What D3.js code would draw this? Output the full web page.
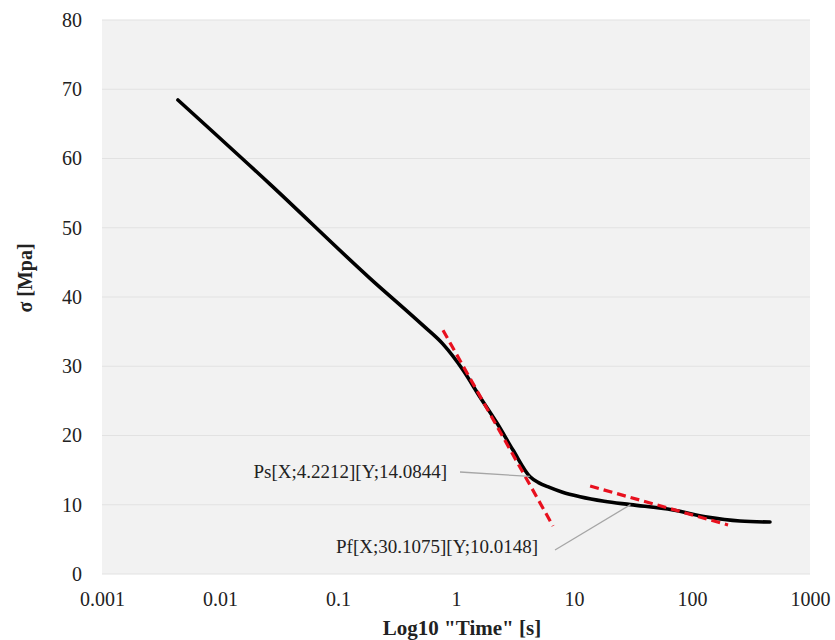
<!DOCTYPE html>
<html>
<head>
<meta charset="utf-8">
<script src="https://cdn.jsdelivr.net/npm/d3@7"></script>
<style>
  html, body { margin: 0; padding: 0; background: #ffffff; }
  svg { display: block; }
  text { font-family: "Liberation Serif", "Times New Roman", serif; fill: #222; }
</style>
</head>
<body>
<svg id="chart" width="835" height="640"></svg>
<script>
// ---- data ----
const timeValues  = [0.0044, 0.0265, 0.1866, 0.525, 0.776, 1.146, 1.596, 2.224, 3.04, 4.2212, 5.0, 6.2, 8.0, 11.25, 18, 30.1075, 69, 134, 255, 458];
const sigmaValues = [68.45, 56.3, 42.7, 35.9, 33.2, 29.46, 25.56, 21.8, 17.9, 14.0844, 13.2, 12.5, 11.8, 11.15, 10.5, 10.0148, 9.24, 8.23, 7.65, 7.5];

const tangentSteepX = [0.776, 6.64];
const tangentSteepY = [35.2, 6.93];
const tangentFlatX  = [13.7, 202];
const tangentFlatY  = [12.7, 7.08];

const xTicks = [0.001, 0.01, 0.1, 1, 10, 100, 1000];
const xTickLabels = ["0.001", "0.01", "0.1", "1", "10", "100", "1000"];
const yTicks = [0, 10, 20, 30, 40, 50, 60, 70, 80];

const annotations = [
  { label: "Ps[X;4.2212][Y;14.0844]", x: 4.2212, y: 14.0844 },
  { label: "Pf[X;30.1075][Y;10.0148]", x: 30.1075, y: 10.0148 }
];

const xTitle = "Log10 \"Time\" [s]";
const yTitle = "σ [Mpa]";

// ---- layout ----
const svg = d3.select("#chart");
const mLeft = 102, mRight = 810, mTop = 20, mBottom = 574;

const x = d3.scaleLog().domain([0.001, 1000]).range([mLeft, mRight]);
const y = d3.scaleLinear().domain([0, 80]).range([mBottom, mTop]);

// plot background
svg.append("rect")
  .attr("x", mLeft).attr("y", mTop)
  .attr("width", mRight - mLeft).attr("height", mBottom - mTop)
  .attr("fill", "#f2f2f2");

// horizontal gridlines
svg.append("g")
  .selectAll("line")
  .data(yTicks)
  .join("line")
  .attr("x1", mLeft).attr("x2", mRight)
  .attr("y1", d => y(d)).attr("y2", d => y(d))
  .attr("stroke", "#e2e2e2")
  .attr("stroke-width", 1.2);

// y axis labels
const yAxis = d3.axisLeft(y).tickValues(yTicks).tickSize(0).tickPadding(20).tickFormat(d3.format("d"));
const gy = svg.append("g").attr("transform", `translate(${mLeft},0)`).call(yAxis);
gy.select(".domain").remove();
gy.selectAll("text").style("font-size", "20px").style("font-family", "Liberation Serif, serif").attr("fill", "#222");

// x axis labels
const xAxis = d3.axisBottom(x).tickValues(xTicks).tickSize(0).tickPadding(18)
  .tickFormat((d, i) => xTickLabels[i]);
const gx = svg.append("g").attr("transform", `translate(0,${mBottom})`).call(xAxis);
gx.select(".domain").remove();
gx.selectAll("text").style("font-size", "20px").style("font-family", "Liberation Serif, serif").attr("fill", "#222");

// axis titles
svg.append("text")
  .attr("x", 462).attr("y", 635)
  .attr("text-anchor", "middle")
  .style("font-size", "21px").style("font-weight", "bold")
  .text(xTitle);

svg.append("text")
  .attr("transform", `translate(32,${278}) rotate(-90)`)
  .attr("text-anchor", "middle")
  .style("font-size", "20px").style("font-weight", "bold")
  .text(yTitle);

// main curve
const curveData = timeValues.map((t, i) => [t, sigmaValues[i]]);
const line = d3.line().x(d => x(d[0])).y(d => y(d[1])).curve(d3.curveMonotoneX);
svg.append("path")
  .datum(curveData)
  .attr("d", line)
  .attr("fill", "none")
  .attr("stroke", "#000")
  .attr("stroke-width", 3.6)
  .attr("stroke-linecap", "round")
  .attr("stroke-linejoin", "round");

// tangent lines
const tangents = [
  tangentSteepX.map((t, i) => [t, tangentSteepY[i]]),
  tangentFlatX.map((t, i) => [t, tangentFlatY[i]])
];
const straight = d3.line().x(d => x(d[0])).y(d => y(d[1]));
svg.append("g").selectAll("path")
  .data(tangents)
  .join("path")
  .attr("d", straight)
  .attr("fill", "none")
  .attr("stroke", "#e8101e")
  .attr("stroke-width", 3.2)
  .attr("stroke-dasharray", "9,5");

// annotations
const labelPos = [
  { tx: 447, ty: 474, lx: 460, ly: 472 },
  { tx: 538, ty: 549, lx: 555, ly: 550 }
];
annotations.forEach((a, i) => {
  const p = labelPos[i];
  svg.append("line")
    .attr("x1", p.lx).attr("y1", p.ly)
    .attr("x2", x(a.x)).attr("y2", y(a.y))
    .attr("stroke", "#a6a6a6").attr("stroke-width", 1.3);
  svg.append("text")
    .attr("x", p.tx).attr("y", p.ty)
    .attr("text-anchor", "end")
    .attr("dominant-baseline", "middle")
    .style("font-size", "19px")
    .text(a.label);
});
</script>
</body>
</html>
